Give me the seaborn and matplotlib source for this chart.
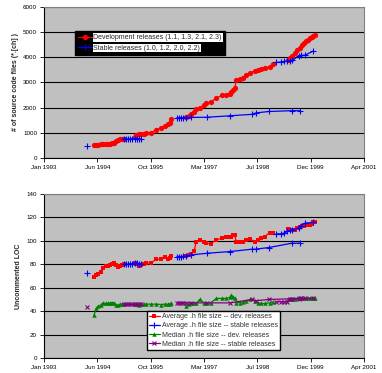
import matplotlib.pyplot as plt
import matplotlib.dates as mdates
from matplotlib.lines import Line2D
import numpy as np
import pandas as pd
import seaborn as sns

# release dates per kernel branch
release_dates = {
    '1.0': ['1994-03-15'],
    '1.1': ['1994-05-15', '1994-06-06', '1994-06-24', '1994-07-16', '1994-08-07', '1994-09-01',
            '1994-09-23', '1994-10-15', '1994-11-03', '1994-11-21', '1994-12-10', '1994-12-29',
            '1995-01-17', '1995-02-04', '1995-02-23'],
    '1.2': ['1995-02-20', '1995-03-14', '1995-04-02', '1995-04-21', '1995-05-09', '1995-05-31',
            '1995-06-22', '1995-07-11', '1995-08-02'],
    '1.3': ['1995-05-31', '1995-06-16', '1995-07-11', '1995-08-01', '1995-08-23', '1995-09-17',
            '1995-11-03', '1995-12-20', '1996-01-30', '1996-03-07', '1996-04-08', '1996-04-23',
            '1996-05-09'],
    '2.0': ['1996-07-01', '1996-07-16', '1996-08-04', '1996-08-26', '1996-09-20', '1996-11-06',
            '1997-04-08', '1997-11-13', '1998-06-04', '1998-07-08', '1998-11-10', '1999-06-11',
            '1999-08-25'],
    '2.1': ['1996-09-26', '1996-10-18', '1996-11-12', '1996-12-07', '1996-12-29', '1997-01-29',
            '1997-03-08', '1997-04-02', '1997-05-13', '1997-07-05', '1997-08-30', '1997-10-06',
            '1997-11-07', '1997-11-22', '1997-12-08', '1997-12-24', '1998-01-08', '1998-02-08',
            '1998-03-12', '1998-04-12', '1998-05-19', '1998-06-29', '1998-07-30', '1998-08-31',
            '1998-10-01', '1998-11-17', '1998-12-18'],
    '2.2': ['1999-01-18', '1999-03-06', '1999-03-31', '1999-05-01', '1999-05-23', '1999-06-17',
            '1999-08-16', '1999-09-03', '1999-10-14', '1999-12-28'],
    '2.3': ['1999-05-08', '1999-05-23', '1999-06-17', '1999-07-09', '1999-08-03', '1999-08-25',
            '1999-09-16', '1999-10-05', '1999-10-26', '1999-11-11', '1999-12-03', '1999-12-18',
            '1999-12-31', '2000-01-12'],
}

# number of *.[ch] files
src_files = {
    '1.0': [480],
    '1.1': [510, 520, 540, 560, 575, 580, 575, 580, 595, 620, 660, 720, 755, 765, 770],
    '1.2': [760, 760, 765, 765, 765, 770, 770, 765, 765],
    '1.3': [840, 910, 950, 960, 970, 990, 1010, 1120, 1200, 1260, 1340, 1390, 1560],
    '2.0': [1600, 1600, 1605, 1605, 1610, 1615, 1620, 1680, 1735, 1790, 1850, 1880, 1880],
    '2.1': [1630, 1660, 1735, 1830, 1930, 2000, 2090, 2190, 2230, 2380, 2490, 2520, 2560, 2610,
            2690, 2760, 3090, 3120, 3190, 3290, 3380, 3460, 3510, 3540, 3580, 3620, 3750],
    '2.2': [3790, 3815, 3830, 3845, 3860, 3870, 4060, 4070, 4080, 4240],
    '2.3': [3900, 3960, 4060, 4150, 4280, 4380, 4500, 4570, 4640, 4680, 4760, 4790, 4830, 4880],
}

# average .h file size (uncommented LOC)
avg_h_size = {
    '1.0': [72.9],
    '1.1': [68.9, 70.9, 72.0, 73.5, 77.0, 78.6, 78.6, 79.1, 80.3, 81.0, 79.5, 78.0, 78.9, 79.7, 80.0],
    '1.2': [80.0, 80.0, 80.3, 80.3, 80.6, 80.9, 80.9, 80.6, 80.6],
    '1.3': [81.4, 80.0, 78.6, 79.4, 80.0, 80.9, 81.4, 84.3, 84.3, 86.0, 84.3, 85.7, 87.1],
    '2.0': [86.6, 86.6, 86.6, 86.8, 87.1, 88.0, 89.4, 90.9, 92.9, 92.9, 94.3, 98.0, 98.0],
    '2.1': [87.0, 88.0, 89.0, 91.0, 99.4, 100.3, 99.4, 98.0, 97.4, 100.9, 102.3, 103.1, 103.1, 103.7,
            105.1, 104.6, 99.4, 99.4, 99.4, 100.6, 102.0, 98.6, 100.3, 102.6, 103.7, 107.1, 106.3],
    '2.2': [106.0, 106.0, 106.6, 108.0, 108.9, 109.4, 110.9, 112.9, 115.1, 115.7],
    '2.3': [110.0, 109.4, 109.4, 109.4, 110.9, 111.5, 112.3, 113.0, 113.7, 113.7, 113.7, 114.5,
            115.7, 116.0],
}

# median .h file size (uncommented LOC)
median_h_size = {
    '1.0': [43.7],
    '1.1': [36.6, 42.3, 44.3, 45.1, 47.1, 46.6, 46.6, 47.1, 47.4, 47.1, 45.1, 45.1, 46.0, 46.0, 46.0],
    '1.2': [46.0, 46.0, 46.0, 46.0, 46.0, 46.0, 46.0, 46.0, 46.0],
    '1.3': [46.0, 46.0, 45.7, 46.0, 46.0, 46.0, 46.0, 46.0, 45.7, 46.0, 46.0, 46.3, 46.6],
    '2.0': [47.1, 47.1, 47.1, 47.1, 47.1, 47.1, 47.1, 47.1, 50.0, 48.9, 50.0, 50.6, 50.9],
    '2.1': [44.3, 46.0, 46.6, 47.1, 46.6, 50.0, 47.4, 47.1, 47.1, 50.9, 50.9, 50.9, 51.7, 53.7,
            52.0, 50.9, 47.1, 47.4, 48.0, 48.9, 50.0, 48.9, 47.1, 46.6, 46.6, 47.1, 48.0],
    '2.2': [48.0, 48.0, 48.0, 48.0, 50.0, 50.3, 50.6, 50.9, 50.9, 50.9],
    '2.3': [50.0, 50.0, 50.3, 50.6, 50.9, 50.9, 50.9, 50.9, 50.9, 51.1, 51.1, 51.1, 51.1, 51.1],
}

dev_branches = ['1.1', '1.3', '2.1', '2.3']
stable_branches = ['1.0', '1.2', '2.0', '2.2']

rows = []
for b in dev_branches + stable_branches:
    kind = 'dev' if b in dev_branches else 'stable'
    for d, f, a, m in zip(release_dates[b], src_files[b], avg_h_size[b], median_h_size[b]):
        rows.append({'date': pd.Timestamp(d), 'branch': b, 'kind': kind,
                     'files': f, 'avg': a, 'median': m})
df = pd.DataFrame(rows)

sns.set_style('white')
plt.rcParams['font.family'] = ['Liberation Sans', 'DejaVu Sans']

fig = plt.figure(figsize=(3.82, 3.73), dpi=100)
ax1 = fig.add_axes([0.115, 0.576, 0.838, 0.406])
ax2 = fig.add_axes([0.115, 0.040, 0.838, 0.440])


def style_axis(ax, ymax, ystep):
    ax.set_facecolor('#c0c0c0')
    ax.set_axisbelow(True)
    ax.set_xlim(pd.Timestamp('1993-01-31'), pd.Timestamp('2001-04-19'))
    ax.set_ylim(0, ymax)
    ax.set_yticks(np.arange(0, ymax + 1, ystep))
    ax.set_xticks(pd.date_range('1993-01-31', periods=7, freq='500D'))
    ax.xaxis.set_major_formatter(mdates.DateFormatter('%b %Y'))
    ax.yaxis.grid(True, color='black', lw=0.8)
    ax.xaxis.grid(False)
    for s in ['left', 'bottom']:
        ax.spines[s].set_color('black')
        ax.spines[s].set_linewidth(0.8)
    for s in ['top', 'right']:
        ax.spines[s].set_color('#808080')
        ax.spines[s].set_linewidth(0.8)
    ax.tick_params(direction='out', length=3, width=0.6, labelsize=4.5, pad=2,
                   left=True, bottom=True, colors='black')
    ax.set_xlabel('')


def draw(ax, col, kind, color, marker, ms, mew):
    sub = df[df['kind'] == kind]
    sns.lineplot(data=sub, x='date', y=col, units='branch', estimator=None, sort=False,
                 color=color, marker=marker, markersize=ms, markeredgewidth=mew,
                 markeredgecolor=color, lw=0.9, legend=False, ax=ax)


# top chart: number of source files
draw(ax1, 'files', 'dev', 'red', 'o', 3.8, 0)
draw(ax1, 'files', 'stable', 'blue', '+', 4, 0.8)
style_axis(ax1, 6000, 1000)
ax1.set_ylabel('# of source code files (*.[ch] )', fontsize=5, fontweight='bold', labelpad=3)

h_top = [Line2D([], [], color='red', marker='o', ms=3.8, mew=0, lw=0.9),
         Line2D([], [], color='blue', marker='+', ms=4, mew=0.8, lw=0.9)]
leg1 = ax1.legend(h_top, ['Development releases (1.1, 1.3, 2.1, 2.3)',
                          'Stable releases (1.0, 1.2, 2.0, 2.2)'],
                  loc='upper left', bbox_to_anchor=(0.085, 0.865), fontsize=5,
                  facecolor='black', edgecolor='black', framealpha=1, fancybox=False,
                  handlelength=2, handletextpad=0.2, borderpad=0.5, labelspacing=0.5)
for t in leg1.get_texts():
    t.set_bbox(dict(facecolor='white', edgecolor='none', pad=0.6))

# bottom chart: .h file sizes
draw(ax2, 'avg', 'dev', 'red', 's', 3, 0)
draw(ax2, 'avg', 'stable', 'blue', '+', 4, 0.8)
draw(ax2, 'median', 'dev', 'green', '^', 3.2, 0)
draw(ax2, 'median', 'stable', '#800080', 'x', 3, 0.8)
style_axis(ax2, 140, 20)
ax2.set_ylabel('Uncommented LOC', fontsize=5, fontweight='bold', labelpad=3)

h_bot = [Line2D([], [], color='red', marker='s', ms=3, mew=0, lw=0.9),
         Line2D([], [], color='blue', marker='+', ms=4, mew=0.8, lw=0.9),
         Line2D([], [], color='green', marker='^', ms=3.2, mew=0, lw=0.9),
         Line2D([], [], color='#800080', marker='x', ms=3, mew=0.8, lw=0.9)]
ax2.legend(h_bot, ['Average .h file size -- dev. releases',
                   'Average .h file size -- stable releases',
                   'Median .h file size -- dev. releases',
                   'Median .h file size -- stable releases'],
           loc='lower left', bbox_to_anchor=(0.31, 0.03), fontsize=5,
           facecolor='white', edgecolor='black', framealpha=1, fancybox=False,
           handlelength=1.6, handletextpad=0.3, borderpad=0.3, labelspacing=0.3,
           labelcolor='#333333')

fig.savefig('out.png', dpi=100)
